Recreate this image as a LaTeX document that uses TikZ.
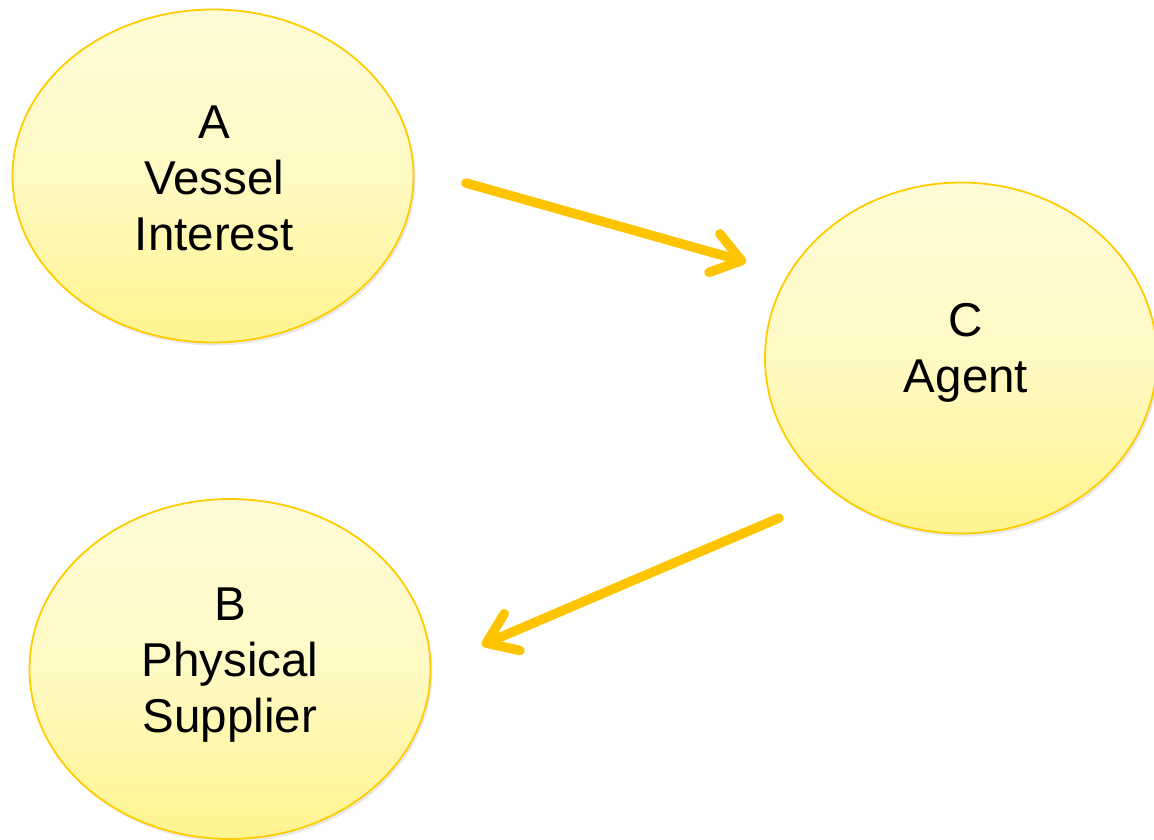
\documentclass[tikz,border=0pt]{standalone}
\usepackage{fontspec}
\setmainfont{Liberation Sans}
\usetikzlibrary{arrows.meta,shapes.geometric,shadows}
\definecolor{gold}{HTML}{FFC400}
\definecolor{edge}{HTML}{FFCC00}
\definecolor{filltop}{HTML}{FFFBD6}
\definecolor{fillbot}{HTML}{FFF48E}
\tikzset{
  bubble/.style={ellipse, draw=edge, line width=1.8pt, inner sep=0pt,
    top color=filltop, bottom color=fillbot, middle color=filltop!75!fillbot,
    drop shadow={opacity=0.18, shadow xshift=2pt, shadow yshift=-3pt}},
  lbl/.style={align=center, inner sep=0pt, font=\fontsize{47.5}{56}\selectfont},
  flow/.style={draw=gold, line width=9.5pt, line cap=round,
    -{Straight Barb[length=28pt,width=40pt,line cap=round,line join=round]}}
}
\begin{document}
\begin{tikzpicture}[x=1pt,y=-1pt]
\useasboundingbox (0,0) rectangle (1154,839);
\clip (0,0) rectangle (1154,839);
\node[bubble, minimum width=401pt, minimum height=333pt] (A) at (213,176) {};
\node[bubble, minimum width=392pt, minimum height=351pt] (C) at (961,358) {};
\node[bubble, minimum width=401pt, minimum height=340pt] (B) at (230,669) {};
\node[lbl] (tA) at (214,178) {A\\Vessel\\Interest};
\node[lbl] (tC) at (966,353) {C\\Agent};
\node[lbl] (tB) at (230,665) {B\\Physical\\Supplier};
\coordinate (a1s) at (466,183);
\coordinate (a1e) at (746,262);
\coordinate (a2s) at (779,518);
\coordinate (a2e) at (482,645);
\draw[flow] (a1s) -- (a1e);
\draw[flow] (a2s) -- (a2e);
\end{tikzpicture}
\end{document}
